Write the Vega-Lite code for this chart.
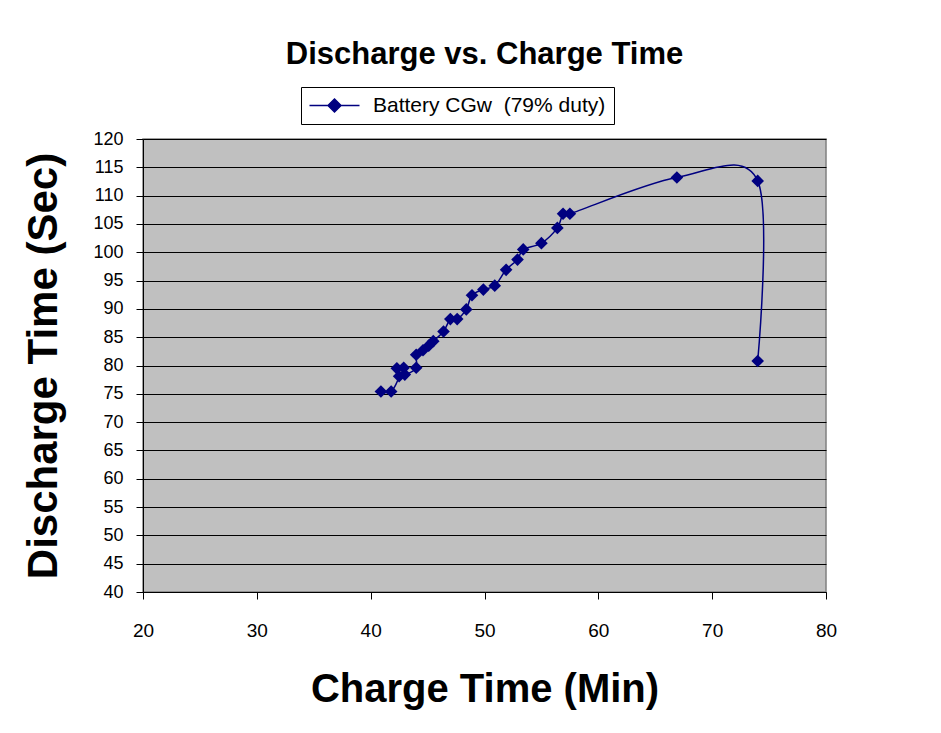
{
  "$schema": "https://vega.github.io/schema/vega-lite/v6.json",
  "width": 683,
  "height": 453,
  "autosize": {"type": "none"},
  "padding": {"left": 143, "top": 139, "right": 115, "bottom": 141},
  "background": "white",
  "title": {
    "text": "Discharge vs. Charge Time",
    "font": "Liberation Sans",
    "fontSize": 31,
    "fontWeight": "bold",
    "color": "black",
    "anchor": "middle",
    "frame": "group",
    "baseline": "alphabetic",
    "offset": -8
  },
  "config": {
    "view": {"fill": "#C0C0C0", "stroke": "#808080", "strokeWidth": 1.5},
    "font": "Liberation Sans",
    "axis": {
      "labelFont": "Liberation Sans",
      "labelFontSize": 18,
      "labelColor": "black",
      "labelFlush": false,
      "titleFont": "Liberation Sans",
      "titleFontSize": 40,
      "titleFontWeight": "bold",
      "titleColor": "black",
      "domainColor": "black",
      "tickColor": "black",
      "tickSize": 7,
      "gridColor": "black",
      "gridOpacity": 1,
      "gridWidth": 1
    }
  },
  "data": {
    "values": [
      {"order": 1, "charge": 40.9, "discharge": 75.4, "series": "Battery CGw\u00a0 (79% duty)"},
      {"order": 2, "charge": 41.8, "discharge": 75.4, "series": "Battery CGw\u00a0 (79% duty)"},
      {"order": 3, "charge": 42.5, "discharge": 78.1, "series": "Battery CGw\u00a0 (79% duty)"},
      {"order": 4, "charge": 42.3, "discharge": 79.5, "series": "Battery CGw\u00a0 (79% duty)"},
      {"order": 5, "charge": 42.9, "discharge": 79.6, "series": "Battery CGw\u00a0 (79% duty)"},
      {"order": 6, "charge": 43.0, "discharge": 78.4, "series": "Battery CGw\u00a0 (79% duty)"},
      {"order": 7, "charge": 44.0, "discharge": 79.6, "series": "Battery CGw\u00a0 (79% duty)"},
      {"order": 8, "charge": 44.0, "discharge": 81.9, "series": "Battery CGw\u00a0 (79% duty)"},
      {"order": 9, "charge": 44.6, "discharge": 82.7, "series": "Battery CGw\u00a0 (79% duty)"},
      {"order": 10, "charge": 45.1, "discharge": 83.5, "series": "Battery CGw\u00a0 (79% duty)"},
      {"order": 11, "charge": 45.5, "discharge": 84.3, "series": "Battery CGw\u00a0 (79% duty)"},
      {"order": 12, "charge": 46.4, "discharge": 86.0, "series": "Battery CGw\u00a0 (79% duty)"},
      {"order": 13, "charge": 47.0, "discharge": 88.2, "series": "Battery CGw\u00a0 (79% duty)"},
      {"order": 14, "charge": 47.6, "discharge": 88.2, "series": "Battery CGw\u00a0 (79% duty)"},
      {"order": 15, "charge": 48.4, "discharge": 89.9, "series": "Battery CGw\u00a0 (79% duty)"},
      {"order": 16, "charge": 48.9, "discharge": 92.4, "series": "Battery CGw\u00a0 (79% duty)"},
      {"order": 17, "charge": 49.9, "discharge": 93.4, "series": "Battery CGw\u00a0 (79% duty)"},
      {"order": 18, "charge": 50.9, "discharge": 94.1, "series": "Battery CGw\u00a0 (79% duty)"},
      {"order": 19, "charge": 51.9, "discharge": 96.9, "series": "Battery CGw\u00a0 (79% duty)"},
      {"order": 20, "charge": 52.9, "discharge": 98.7, "series": "Battery CGw\u00a0 (79% duty)"},
      {"order": 21, "charge": 53.4, "discharge": 100.5, "series": "Battery CGw\u00a0 (79% duty)"},
      {"order": 22, "charge": 55.0, "discharge": 101.6, "series": "Battery CGw\u00a0 (79% duty)"},
      {"order": 23, "charge": 56.4, "discharge": 104.3, "series": "Battery CGw\u00a0 (79% duty)"},
      {"order": 24, "charge": 56.9, "discharge": 106.8, "series": "Battery CGw\u00a0 (79% duty)"},
      {"order": 25, "charge": 57.5, "discharge": 106.8, "series": "Battery CGw\u00a0 (79% duty)"},
      {"order": 26, "charge": 66.9, "discharge": 113.2, "series": "Battery CGw\u00a0 (79% duty)"},
      {"order": 27, "charge": 74.0, "discharge": 112.6, "series": "Battery CGw\u00a0 (79% duty)"},
      {"order": 28, "charge": 74.0, "discharge": 80.8, "series": "Battery CGw\u00a0 (79% duty)"}
    ]
  },
  "encoding": {
    "x": {
      "field": "charge",
      "type": "quantitative",
      "title": "Charge Time (Min)",
      "scale": {"domain": [20, 80], "nice": false, "zero": false},
      "axis": {
        "values": [20, 30, 40, 50, 60, 70, 80],
        "grid": false,
        "labelPadding": 22,
        "labelFontSize": 19,
        "titleBaseline": "alphabetic",
        "titleY": 109
      }
    },
    "y": {
      "field": "discharge",
      "type": "quantitative",
      "title": "Discharge Time (Sec)",
      "scale": {"domain": [40, 120], "nice": false, "zero": false},
      "axis": {
        "values": [40, 45, 50, 55, 60, 65, 70, 75, 80, 85, 90, 95, 100, 105, 110, 115, 120],
        "grid": true,
        "labelPadding": 13,
        "titleFontSize": 42,
        "titleBaseline": "alphabetic",
        "titleX": -87
      }
    },
    "color": {
      "field": "series",
      "type": "nominal",
      "scale": {"range": ["#000080"]},
      "legend": {
        "title": null,
        "orient": "none",
        "legendX": 158,
        "legendY": -52,
        "direction": "vertical",
        "fillColor": "white",
        "strokeColor": "black",
        "padding": 8,
        "labelFont": "Liberation Sans",
        "labelFontSize": 21,
        "labelColor": "black",
        "labelLimit": 0,
        "symbolType": "M-5,0L5,0M0,-1.3L1.3,0L0,1.3L-1.3,0Z",
        "symbolSize": 100,
        "symbolFillColor": "#000080",
        "symbolStrokeColor": "#000080",
        "symbolStrokeWidth": 1.5,
        "symbolOffset": 15,
        "labelOffset": 28
      }
    },
    "order": {"field": "order", "type": "quantitative"}
  },
  "layer": [
    {
      "mark": {"type": "line", "interpolate": "cardinal", "strokeWidth": 1.5}
    },
    {
      "mark": {"type": "point", "shape": "diamond", "filled": true, "size": 160, "opacity": 1}
    }
  ]
}
